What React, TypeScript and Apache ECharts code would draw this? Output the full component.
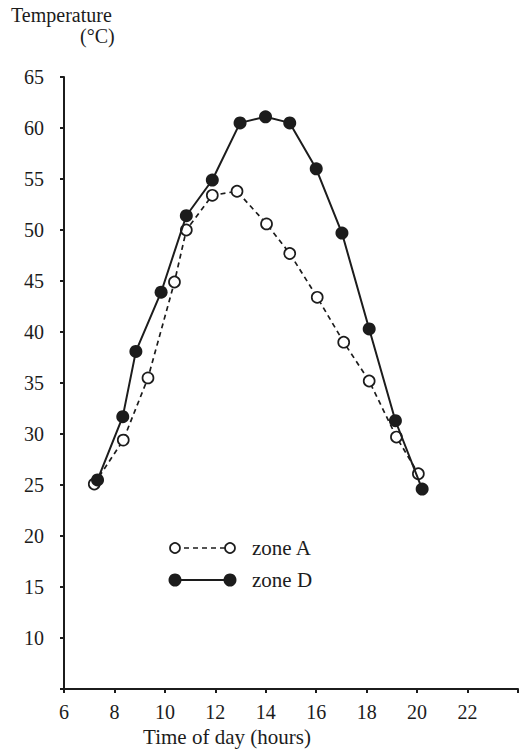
import React, { useEffect, useRef } from "react";
import * as echarts from "echarts";

const zoneA: [number, number][] = [
  [7.2, 25.1], [8.35, 29.4], [9.33, 35.5], [10.38, 44.9], [10.85, 50.0],
  [11.88, 53.4], [12.86, 53.8], [14.03, 50.6], [14.95, 47.7], [16.04, 43.4],
  [17.09, 39.0], [18.1, 35.2], [19.18, 29.7], [20.05, 26.1],
];
const zoneD: [number, number][] = [
  [7.33, 25.5], [8.33, 31.7], [8.85, 38.1], [9.85, 43.9], [10.85, 51.4],
  [11.88, 54.9], [12.98, 60.5], [13.99, 61.1], [14.95, 60.5], [16.0, 56.0],
  [17.02, 49.7], [18.1, 40.3], [19.14, 31.3], [20.2, 24.6],
];
const seriesNames = ["zone A", "zone D"];
const yTitle = ["Temperature", "(°C)"];
const xTitle = "Time of day (hours)";

const INK = "#1c1c1c";
const FONT = "'Liberation Serif', 'Times New Roman', serif";

export default function App() {
  const ref = useRef<HTMLDivElement>(null);
  useEffect(() => {
    if (!ref.current) return;
    const chart = echarts.init(ref.current, undefined, { renderer: "svg" });
    const txt = { fontFamily: FONT, fontSize: 20, color: INK };
    chart.setOption({
      animation: false,
      backgroundColor: "#ffffff",
      grid: { left: 64, top: 77, width: 459, height: 612, containLabel: false },
      xAxis: {
        type: "value",
        min: 6,
        max: 24,
        interval: 2,
        axisLine: { lineStyle: { color: INK, width: 2 } },
        axisTick: { show: true, length: 4, lineStyle: { color: INK, width: 2 } },
        splitLine: { show: false },
        axisLabel: {
          ...txt,
          margin: 13,
          formatter: (v: number) => (v === 24 ? "" : String(v)),
        },
      },
      yAxis: {
        type: "value",
        min: 5,
        max: 65,
        interval: 5,
        axisLine: { show: true, lineStyle: { color: INK, width: 2 } },
        axisTick: { show: true, length: 4, lineStyle: { color: INK, width: 2 } },
        splitLine: { show: false },
        axisLabel: {
          ...txt,
          margin: 20,
          formatter: (v: number) => (v === 5 ? "" : String(v)),
        },
      },
      series: [
        {
          name: seriesNames[0],
          type: "line",
          data: zoneA,
          symbol: "circle",
          symbolSize: 11,
          lineStyle: { color: INK, width: 1.7, type: [5, 4] },
          itemStyle: { color: "#ffffff", borderColor: INK, borderWidth: 1.7 },
          z: 2,
        },
        {
          name: seriesNames[1],
          type: "line",
          data: zoneD,
          symbol: "circle",
          symbolSize: 13,
          lineStyle: { color: INK, width: 2 },
          itemStyle: { color: INK, borderColor: INK, borderWidth: 0 },
          z: 3,
        },
      ],
      graphic: [
        { type: "text", left: 11, top: 5, style: { text: yTitle[0], font: `20px ${FONT}`, fill: INK } },
        { type: "text", left: 80, top: 26, style: { text: yTitle[1], font: `20px ${FONT}`, fill: INK } },
        {
          type: "text",
          x: 227,
          y: 737,
          style: { text: xTitle, font: `21px ${FONT}`, fill: INK, align: "center", verticalAlign: "middle" },
        },
        // legend zone A
        { type: "line", shape: { x1: 175, y1: 548, x2: 230, y2: 548 }, style: { stroke: INK, lineWidth: 1.7, lineDash: [5, 4] } },
        { type: "circle", shape: { cx: 175, cy: 548, r: 5 }, style: { fill: "#fff", stroke: INK, lineWidth: 1.7 } },
        { type: "circle", shape: { cx: 230, cy: 548, r: 5 }, style: { fill: "#fff", stroke: INK, lineWidth: 1.7 } },
        {
          type: "text", x: 252, y: 548,
          style: { text: seriesNames[0], font: `21px ${FONT}`, fill: INK, verticalAlign: "middle" },
        },
        // legend zone D
        { type: "line", shape: { x1: 175, y1: 580, x2: 230, y2: 580 }, style: { stroke: INK, lineWidth: 2 } },
        { type: "circle", shape: { cx: 175, cy: 580, r: 6.5 }, style: { fill: INK } },
        { type: "circle", shape: { cx: 230, cy: 580, r: 6.5 }, style: { fill: INK } },
        {
          type: "text", x: 252, y: 580,
          style: { text: seriesNames[1], font: `21px ${FONT}`, fill: INK, verticalAlign: "middle" },
        },
      ],
    });
    return () => chart.dispose();
  }, []);
  return (
    <div
      ref={ref}
      style={{ position: "fixed", left: 0, top: 0, width: 521, height: 749, background: "#fff" }}
    />
  );
}
